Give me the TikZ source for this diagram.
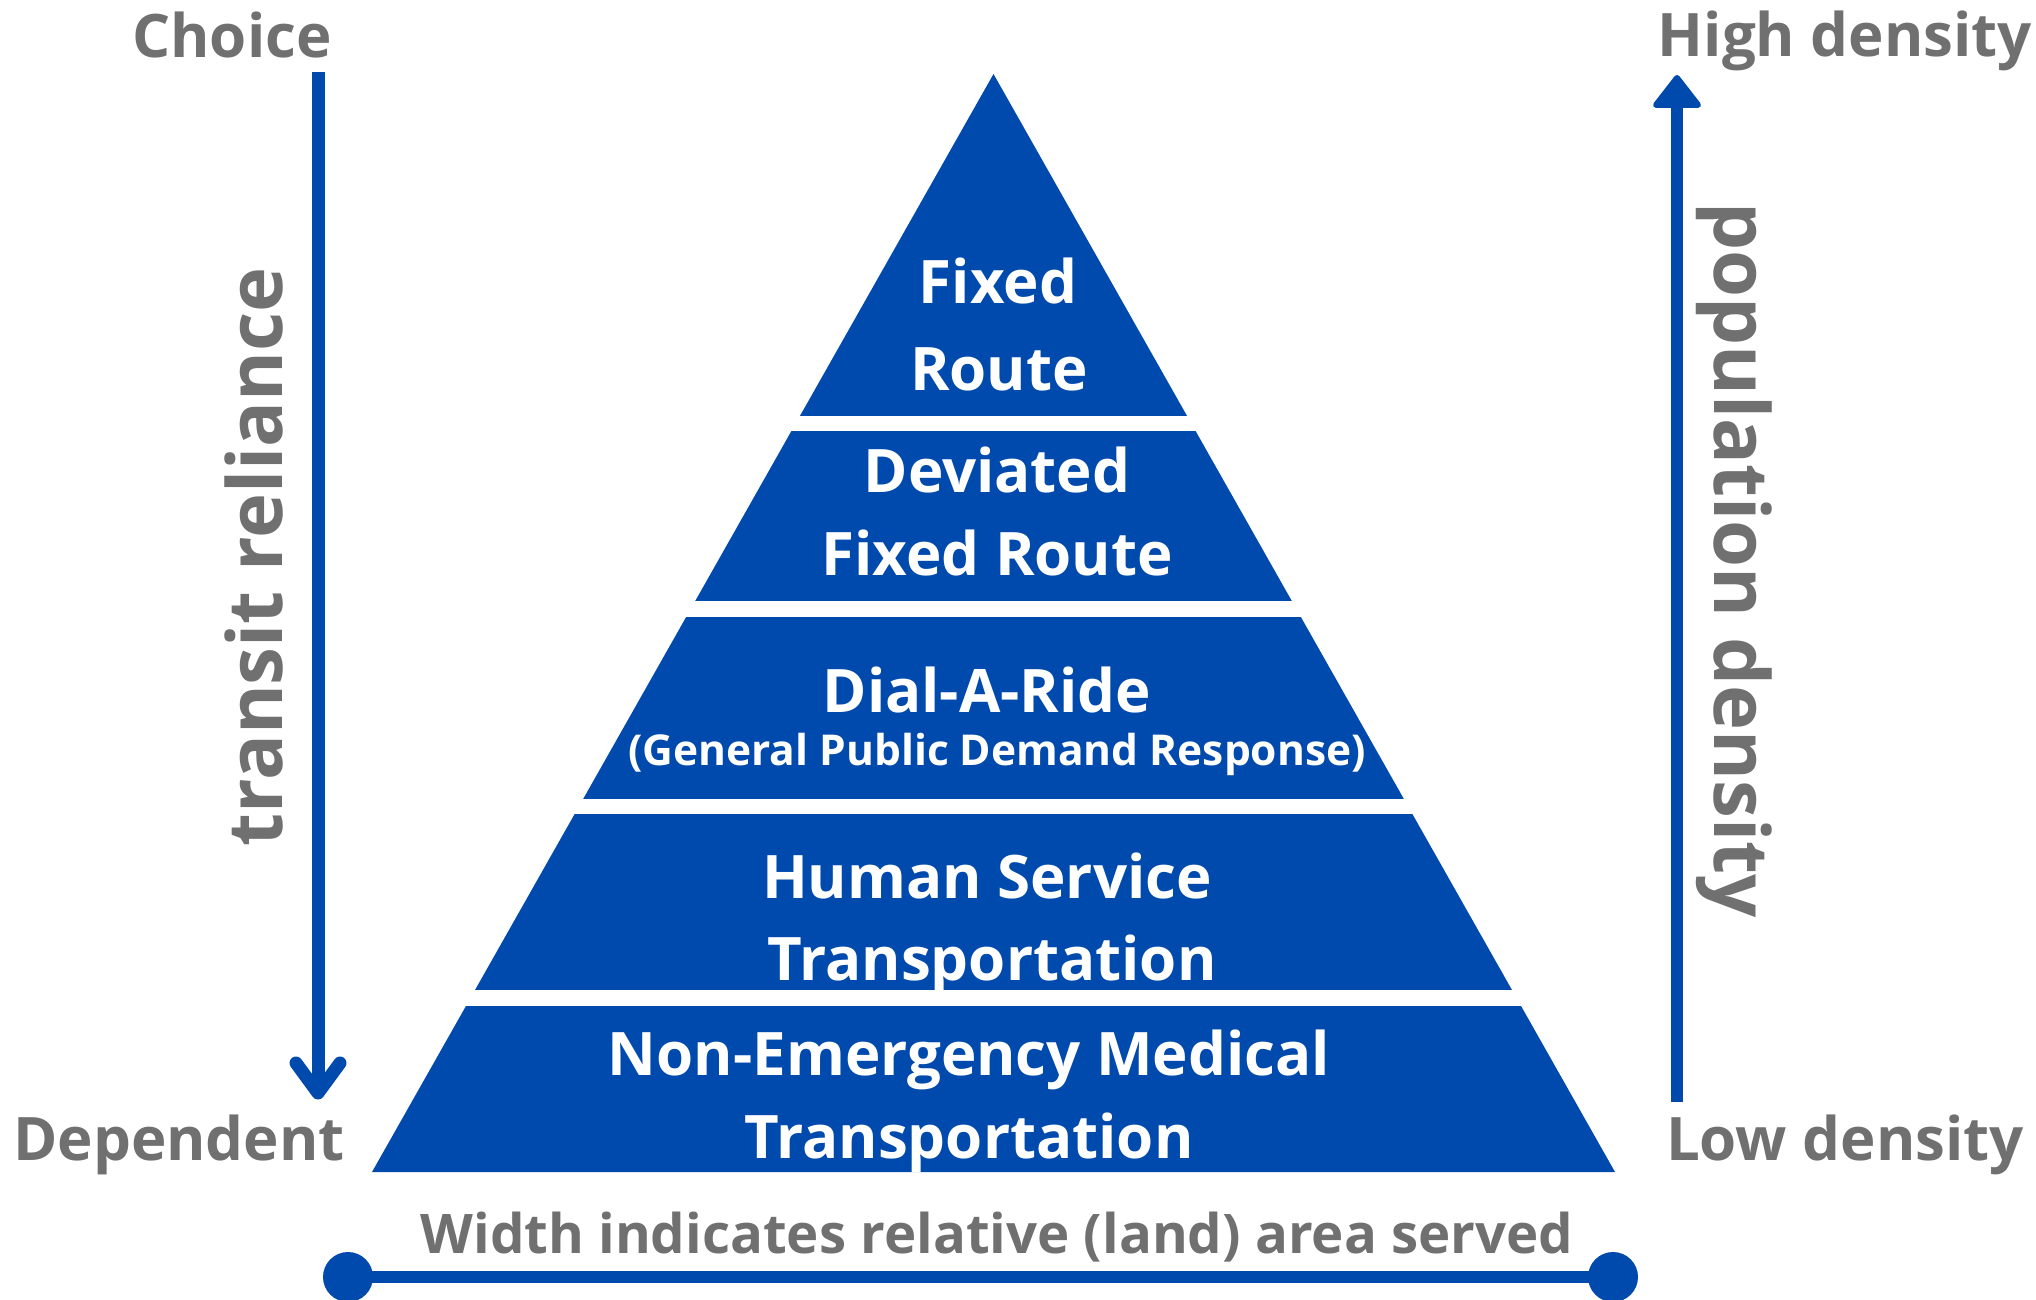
\documentclass[tikz,border=0pt]{standalone}
\usepackage{fontspec}
\setmainfont{Open Sans}
\definecolor{pyblue}{RGB}{0,74,173}
\definecolor{greytxt}{RGB}{112,112,112}
\tikzset{
  lbl/.style={text=white, font=\bfseries\fontsize{60}{72}\selectfont, anchor=base, inner sep=0pt},
  sublbl/.style={lbl, font=\bfseries\fontsize{42.5}{50}\selectfont},
  side/.style={text=greytxt, font=\bfseries\fontsize{60}{72}\selectfont, anchor=base, inner sep=0pt},
  foot/.style={side, font=\bfseries\fontsize{54.6}{64}\selectfont},
  axislbl/.style={text=greytxt, font=\bfseries\fontsize{76}{90}\selectfont, inner sep=0pt},
  axisline/.style={draw=pyblue, line width=13pt},
}
\begin{document}
\begin{tikzpicture}[x=1pt, y=-1pt]
\useasboundingbox (0,0) rectangle (2036,1300);

% pyramid outline
\coordinate (apex) at (993.5,74);
\coordinate (bl) at (372,1172);
\coordinate (br) at (1615,1172);

\begin{scope}
  \clip (apex) -- (bl) -- (br) -- cycle;
  \fill[pyblue] (0,60)   rectangle (2036,416);
  \fill[pyblue] (0,431)  rectangle (2036,601);
  \fill[pyblue] (0,617)  rectangle (2036,799);
  \fill[pyblue] (0,814)  rectangle (2036,990);
  \fill[pyblue] (0,1006) rectangle (2036,1180);
\end{scope}

% tier labels
\node[lbl] (t1a) at (998,303) {Fixed};
\node[lbl] (t1b) at (999,390) {Route};
\node[lbl] (t2a) at (997,492) {Deviated};
\node[lbl] (t2b) at (997,575) {Fixed Route};
\node[lbl] (t3a) at (987,712) {Dial-A-Ride};
\node[sublbl] (t3b) at (997,765) {(General Public Demand Response)};
\node[lbl] (t4a) at (987,898) {Human Service};
\node[lbl] (t4b) at (992,980) {Transportation};
\node[lbl] (t5a) at (969,1075) {Non-Emergency Medical};
\node[lbl] (t5b) at (969,1158) {Transportation};

% left axis: transit reliance
\node[side] (choice) at (232,58) {Choice};
\node[side] (dep) at (179,1160) {Dependent};
\coordinate (ltop) at (318,72);
\coordinate (ltip) at (318,1093);
\coordinate (lw1) at (296,1063);
\coordinate (lw2) at (340,1063);
\draw[axisline] (ltop) -- (ltip);
\draw[axisline, line cap=round, line join=round] (lw1) -- (ltip) -- (lw2);
\node[axislbl, rotate=90] (rel) at (254,557) {transit reliance};

% right axis: population density
\node[side] (high) at (1845,57) {High density};
\node[side] (low) at (1845,1160) {Low density};
\coordinate (rbot) at (1677,1102);
\coordinate (rtop) at (1677,100);
\draw[axisline, line width=12pt] (rbot) -- (rtop);
\filldraw[pyblue, line width=6pt, line join=round] (1677,78) -- (1656,105) -- (1698,105) -- cycle;
\node[axislbl, rotate=-90] (dens) at (1734,560) {population density};

% bottom scale: width
\node[foot] (width) at (997,1253) {Width indicates relative (land) area served};
\coordinate (bleft) at (348,1277);
\coordinate (bright) at (1613,1277);
\draw[pyblue, line width=12pt] (bleft) -- (bright);
\fill[pyblue] (bleft) circle (25);
\fill[pyblue] (bright) circle (25);
\end{tikzpicture}
\end{document}
